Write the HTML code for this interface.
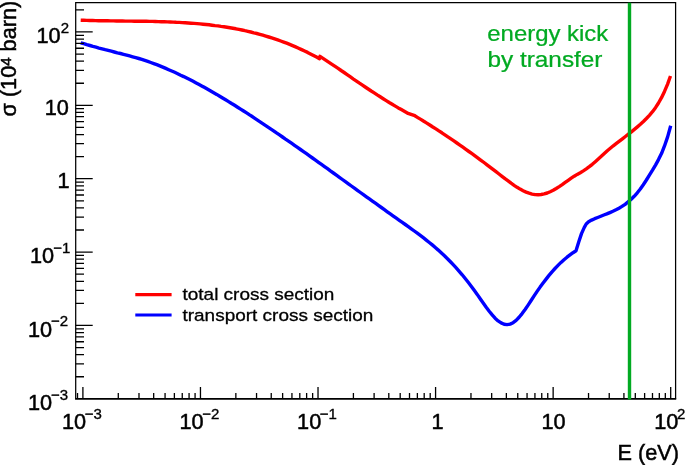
<!DOCTYPE html>
<html><head><meta charset="utf-8"><title>cross section</title>
<style>
html,body{margin:0;padding:0;background:#fff;}
body{width:685px;height:465px;overflow:hidden;font-family:"Liberation Sans",sans-serif;}
svg{display:block;will-change:transform;}
text{font-family:"Liberation Sans",sans-serif;fill:#000;}
.b{stroke:#000;stroke-width:0.5px;}
.b2{stroke:#000;stroke-width:0.35px;}
</style></head><body>
<svg width="685" height="465" viewBox="0 0 685 465">
<rect x="0" y="0" width="685" height="465" fill="#fff"/>
<path d="M80.7,20.2L83.7,20.3L86.7,20.4L89.7,20.5L92.6,20.5L95.6,20.6L98.6,20.7L101.6,20.7L104.6,20.8L107.6,20.8L110.6,20.9L113.5,20.9L116.5,21.0L119.5,21.0L122.5,21.0L125.5,21.1L128.5,21.1L131.4,21.1L134.4,21.2L137.4,21.2L140.4,21.2L143.4,21.3L146.4,21.3L149.4,21.4L152.3,21.4L155.3,21.5L158.3,21.6L161.3,21.7L164.3,21.8L167.3,21.9L170.2,22.0L173.2,22.1L176.2,22.3L179.2,22.4L182.2,22.6L185.2,22.8L188.2,23.0L191.1,23.2L194.1,23.4L197.1,23.6L200.1,23.9L203.1,24.2L206.1,24.5L209.1,24.8L212.0,25.2L215.0,25.6L218.0,25.9L221.0,26.4L224.0,26.8L227.0,27.3L230.0,27.8L232.9,28.3L235.9,28.8L238.9,29.4L241.9,30.0L244.9,30.7L247.9,31.3L250.8,32.0L253.8,32.8L256.8,33.5L259.8,34.3L262.8,35.2L265.8,36.1L268.8,37.0L271.7,37.9L274.7,38.9L277.7,39.9L280.7,41.0L283.7,42.1L286.7,43.2L289.7,44.4L292.6,45.6L295.6,46.9L298.6,48.2L301.6,49.6L304.6,51.0L307.6,52.4L310.5,53.9L313.5,55.5L316.5,57.1L319.5,58.7L320.0,56.3L323.0,58.3L326.0,60.3L329.0,62.3L332.0,64.3L335.1,66.4L338.1,68.4L341.1,70.5L344.1,72.5L347.1,74.6L350.1,76.7L353.1,78.8L356.1,80.8L359.1,82.9L362.1,84.9L365.2,87.0L368.2,89.0L371.2,91.0L374.2,92.9L377.2,94.9L380.2,96.8L383.2,98.7L386.2,100.6L389.2,102.5L392.2,104.3L395.3,106.1L398.3,107.9L401.3,109.6L404.3,111.3L407.3,113.0L407.3,113.1L414.8,115.7L414.8,115.8L417.8,117.6L420.8,119.4L423.8,121.3L426.8,123.1L429.8,125.0L432.8,127.0L435.9,128.9L438.9,130.9L441.9,132.8L444.9,134.8L447.9,136.9L450.9,138.9L453.9,140.9L456.9,143.0L459.9,145.1L462.9,147.2L465.9,149.4L468.9,151.5L472.0,153.7L475.0,155.9L478.0,158.1L481.0,160.3L484.0,162.5L487.0,164.8L490.0,167.1L493.0,169.4L496.0,171.7L499.0,174.0L502.0,176.3L505.0,178.7L508.1,180.9L511.1,183.2L514.1,185.3L517.1,187.3L520.1,189.1L523.1,190.7L526.1,192.1L529.1,193.2L532.1,194.1L535.1,194.6L538.1,194.7L541.1,194.5L544.2,193.9L547.2,193.0L550.2,191.7L553.2,190.3L556.2,188.5L559.2,186.6L562.2,184.6L565.2,182.4L568.2,180.3L571.2,178.2L574.2,176.2L577.2,174.4L580.3,172.7L583.3,170.9L586.3,168.9L589.3,166.7L592.3,164.3L595.3,161.7L598.3,159.0L601.3,156.3L604.3,153.5L607.3,150.8L610.3,148.3L613.3,145.8L616.4,143.4L619.4,141.1L622.4,138.8L625.4,136.5L628.4,134.2L631.4,131.8L634.4,129.4L637.4,126.9L640.4,124.3L643.4,121.5L646.4,118.5L649.4,115.3L652.5,111.7L655.5,107.7L658.5,103.0L661.5,97.7L664.5,91.4L667.5,84.3L670.5,76.0" fill="none" stroke="#ff0000" stroke-width="3.4" stroke-linejoin="round" stroke-linecap="butt"/>
<path d="M80.7,42.8L83.8,43.7L86.8,44.7L89.9,45.5L92.9,46.4L96.0,47.2L99.0,48.1L102.1,48.9L105.2,49.7L108.2,50.4L111.3,51.2L114.3,52.0L117.4,52.8L120.5,53.5L123.5,54.3L126.6,55.1L129.6,55.9L132.7,56.8L135.7,57.6L138.8,58.5L138.8,58.5L141.8,59.4L144.8,60.4L147.8,61.4L150.8,62.5L153.8,63.6L156.8,64.7L159.8,65.9L162.8,67.1L165.8,68.4L168.7,69.7L171.7,71.0L174.7,72.3L177.7,73.7L180.7,75.2L183.7,76.6L186.7,78.1L189.7,79.6L192.7,81.1L195.7,82.7L198.7,84.3L201.7,85.9L204.7,87.6L207.7,89.3L210.7,91.0L213.7,92.7L216.7,94.4L219.7,96.2L222.6,98.0L225.6,99.8L228.6,101.6L231.6,103.5L234.6,105.3L237.6,107.2L240.6,109.1L243.6,111.0L246.6,112.9L249.6,114.9L252.6,116.8L255.6,118.8L258.6,120.8L261.6,122.8L264.6,124.8L267.6,126.8L270.6,128.8L273.6,130.8L276.5,132.9L279.5,134.9L282.5,137.0L285.5,139.1L288.5,141.1L291.5,143.2L294.5,145.3L297.5,147.4L300.5,149.5L303.5,151.6L306.5,153.7L309.5,155.9L312.5,158.0L315.5,160.1L318.5,162.3L321.5,164.4L324.5,166.6L327.5,168.7L330.4,170.9L333.4,173.0L336.4,175.2L339.4,177.3L342.4,179.5L345.4,181.6L348.4,183.8L351.4,186.0L354.4,188.1L357.4,190.3L360.4,192.5L363.4,194.6L366.4,196.8L369.4,198.9L372.4,201.1L375.4,203.2L378.4,205.4L381.4,207.5L384.4,209.7L387.3,211.8L390.3,213.9L393.3,216.1L396.3,218.2L399.3,220.3L402.3,222.4L405.3,224.5L408.3,226.7L411.3,228.8L414.3,231.0L417.3,233.2L420.3,235.4L423.3,237.7L426.3,240.1L429.3,242.5L432.3,244.9L435.3,247.5L438.3,250.1L441.2,252.8L444.2,255.6L447.2,258.5L450.2,261.5L453.2,264.7L456.2,267.9L459.2,271.3L462.2,274.8L465.2,278.5L468.2,282.3L471.2,286.2L474.2,290.3L477.2,294.4L480.2,298.7L483.2,303.0L486.2,307.2L489.2,311.2L492.2,314.9L495.1,318.2L498.1,320.9L501.1,322.9L504.1,324.2L507.1,324.6L510.1,324.1L513.1,322.7L516.1,320.4L519.1,317.3L522.1,313.6L525.1,309.5L528.1,305.1L531.1,300.5L534.1,295.9L537.1,291.4L540.1,287.1L543.1,283.0L546.1,279.1L549.0,275.4L552.0,271.8L555.0,268.5L558.0,265.4L561.0,262.4L564.0,259.7L567.0,257.2L570.0,254.9L573.0,252.7L576.0,250.8L576.0,250.8L578.8,241.8L581.5,233.6L584.3,227.4L584.3,227.4L586.2,224.0L588.6,221.7L588.6,221.7L591.6,220.1L594.7,218.7L597.7,217.5L600.8,216.2L603.8,215.0L606.8,213.9L609.9,212.6L612.9,211.3L616.0,209.8L619.0,208.2L622.0,206.4L625.1,204.3L628.1,201.9L631.2,199.3L634.2,196.3L637.3,192.8L640.3,189.0L643.3,184.7L646.4,180.0L649.4,175.2L652.5,170.2L655.5,165.1L658.5,159.6L661.6,153.3L664.6,145.7L667.7,136.6L670.7,125.7" fill="none" stroke="#0000ff" stroke-width="3.4" stroke-linejoin="round" stroke-linecap="butt"/>
<path d="M75.7,398.85V2.5H675.6V398.85" fill="none" stroke="#000" stroke-width="1.25" stroke-linejoin="miter"/><path d="M75.08,398.85H676.22" fill="none" stroke="#000" stroke-width="1.6"/>
<path d="M77.52,398.85v-5.9 M82.90,398.85v-11.8 M118.29,398.85v-5.9 M138.99,398.85v-5.9 M153.68,398.85v-5.9 M165.07,398.85v-5.9 M174.38,398.85v-5.9 M182.25,398.85v-5.9 M189.07,398.85v-5.9 M195.08,398.85v-5.9 M200.46,398.85v-11.8 M235.85,398.85v-5.9 M256.55,398.85v-5.9 M271.24,398.85v-5.9 M282.63,398.85v-5.9 M291.94,398.85v-5.9 M299.81,398.85v-5.9 M306.63,398.85v-5.9 M312.64,398.85v-5.9 M318.02,398.85v-11.8 M353.41,398.85v-5.9 M374.11,398.85v-5.9 M388.80,398.85v-5.9 M400.19,398.85v-5.9 M409.50,398.85v-5.9 M417.37,398.85v-5.9 M424.19,398.85v-5.9 M430.20,398.85v-5.9 M435.58,398.85v-11.8 M470.97,398.85v-5.9 M491.67,398.85v-5.9 M506.36,398.85v-5.9 M517.75,398.85v-5.9 M527.06,398.85v-5.9 M534.93,398.85v-5.9 M541.75,398.85v-5.9 M547.76,398.85v-5.9 M553.14,398.85v-11.8 M588.53,398.85v-5.9 M609.23,398.85v-5.9 M623.92,398.85v-5.9 M635.31,398.85v-5.9 M644.62,398.85v-5.9 M652.49,398.85v-5.9 M659.31,398.85v-5.9 M665.32,398.85v-5.9 M670.70,398.85v-11.8 M75.7,376.76h8.3 M75.7,363.84h8.3 M75.7,354.67h8.3 M75.7,347.56h8.3 M75.7,341.75h8.3 M75.7,336.84h8.3 M75.7,332.58h8.3 M75.7,328.83h8.3 M75.7,325.47h17 M75.7,303.38h8.3 M75.7,290.46h8.3 M75.7,281.29h8.3 M75.7,274.18h8.3 M75.7,268.37h8.3 M75.7,263.46h8.3 M75.7,259.20h8.3 M75.7,255.45h8.3 M75.7,252.09h17 M75.7,230.00h8.3 M75.7,217.08h8.3 M75.7,207.91h8.3 M75.7,200.80h8.3 M75.7,194.99h8.3 M75.7,190.08h8.3 M75.7,185.82h8.3 M75.7,182.07h8.3 M75.7,178.71h17 M75.7,156.62h8.3 M75.7,143.70h8.3 M75.7,134.53h8.3 M75.7,127.42h8.3 M75.7,121.61h8.3 M75.7,116.70h8.3 M75.7,112.44h8.3 M75.7,108.69h8.3 M75.7,105.33h17 M75.7,83.24h8.3 M75.7,70.32h8.3 M75.7,61.15h8.3 M75.7,54.04h8.3 M75.7,48.23h8.3 M75.7,43.32h8.3 M75.7,39.06h8.3 M75.7,35.31h8.3 M75.7,31.95h17 M75.7,9.86h8.3" fill="none" stroke="#000" stroke-width="1.3"/>
<line x1="629.5" y1="2.7" x2="629.5" y2="399.55" stroke="#02aa22" stroke-width="3.4"/>
<text transform="translate(27.90,409.95) scale(1,1.05)" font-size="21.7" text-anchor="start" class="b">10</text>
<text x="51.10" y="399.65" font-size="15" class="b2">−3</text>
<text transform="translate(27.90,336.57) scale(1,1.05)" font-size="21.7" text-anchor="start" class="b">10</text>
<text x="51.10" y="326.27" font-size="15" class="b2">−2</text>
<text transform="translate(30.00,263.19) scale(1,1.05)" font-size="21.7" text-anchor="start" class="b">10</text>
<text x="53.15" y="252.89" font-size="15" class="b2">−1</text>
<text transform="translate(69.60,188.41) scale(1,1.05)" font-size="21.7" text-anchor="end" class="b">1</text>
<text transform="translate(68.90,115.03) scale(1,1.05)" font-size="21.7" text-anchor="end" class="b">10</text>
<text transform="translate(36.50,43.05) scale(1,1.05)" font-size="21.7" text-anchor="start" class="b">10</text>
<text x="60.75" y="32.75" font-size="15" class="b2">2</text>
<text transform="translate(61.98,428.90) scale(1,1.05)" font-size="21.7" text-anchor="start" class="b">10</text>
<text x="84.72" y="418.70" font-size="15" class="b2">−3</text>
<text transform="translate(179.54,428.90) scale(1,1.05)" font-size="21.7" text-anchor="start" class="b">10</text>
<text x="202.28" y="418.70" font-size="15" class="b2">−2</text>
<text transform="translate(297.10,428.90) scale(1,1.05)" font-size="21.7" text-anchor="start" class="b">10</text>
<text x="319.84" y="418.70" font-size="15" class="b2">−1</text>
<text transform="translate(437.58,428.90) scale(1,1.05)" font-size="21.7" text-anchor="middle" class="b">1</text>
<text transform="translate(553.54,428.90) scale(1,1.05)" font-size="21.7" text-anchor="middle" class="b">10</text>
<text transform="translate(654.16,428.90) scale(1,1.05)" font-size="21.7" text-anchor="start" class="b">10</text>
<text x="676.90" y="418.70" font-size="15" class="b2">2</text>
<text transform="translate(678.9,460.0) scale(1,1.035)" font-size="21.7" text-anchor="end" class="b">E (eV)</text>
<text transform="translate(16.4,0.8) rotate(-90) scale(1,0.985)" font-size="21.7" text-anchor="end" class="b">σ (10<tspan font-size="15" dy="-5.5">4</tspan><tspan dy="5.5"> barn)</tspan></text>
<line x1="135.3" y1="294.6" x2="171.6" y2="294.6" stroke="#ff0000" stroke-width="3.2"/>
<line x1="135.3" y1="315.0" x2="171.6" y2="315.0" stroke="#0000ff" stroke-width="3.2"/>
<text transform="translate(182.5,300.1) scale(1.0971,1)" font-size="17.3" style="fill:#000;stroke:#000;stroke-width:0.3px">total cross section</text>
<text transform="translate(182.5,320.5) scale(1.0969,1)" font-size="17.3" style="fill:#000;stroke:#000;stroke-width:0.3px">transport cross section</text>
<text transform="translate(487.3,41.2) scale(1.1076,1)" font-size="21.6" style="fill:#02aa22;stroke:#02aa22;stroke-width:0.25px">energy kick</text>
<text transform="translate(487.5,66.7) scale(1.1270,1)" font-size="21.6" style="fill:#02aa22;stroke:#02aa22;stroke-width:0.25px">by transfer</text>
</svg>
</body></html>
